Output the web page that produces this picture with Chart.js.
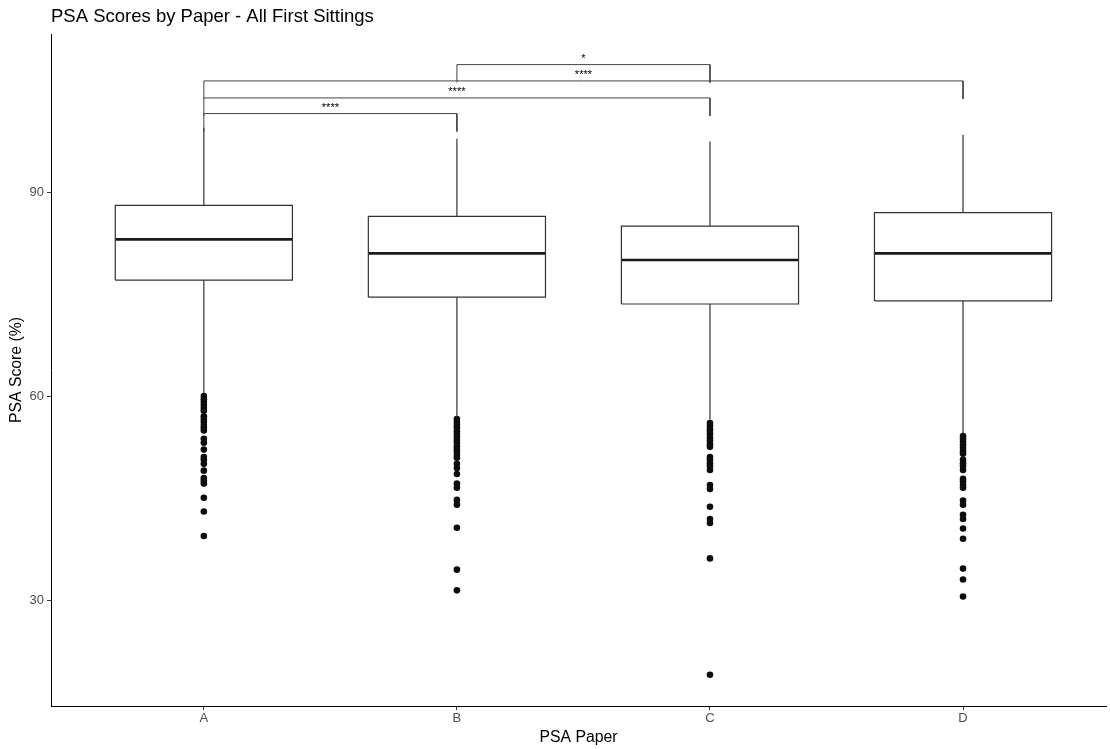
<!DOCTYPE html>
<html>
<head>
<meta charset="utf-8">
<title>PSA Scores by Paper</title>
<script src="https://cdn.jsdelivr.net/npm/chart.js@4.4.1/dist/chart.umd.min.js"></script>
<style>
  html, body { margin: 0; padding: 0; background: #fff; }
  #wrap { width: 1110px; height: 749px; position: relative; }
</style>
</head>
<body>
<div id="wrap"><canvas id="chart"></canvas></div>
<script>
// ---- data ----
const papers = ['A', 'B', 'C', 'D'];
const whiskerLow  = [60.5, 57.0, 56.6, 54.6];
const quartile1   = [77.1, 74.6, 73.6, 74.05];
const medians     = [83.1, 81.05, 80.07, 81.05];
const quartile3   = [88.1, 86.5, 85.05, 87.05];
const whiskerHigh = [99.5, 97.9, 97.5, 98.5];

const outliersA = [60.07, 59.6, 59.2, 58.75, 58.3, 57.9, 57.1, 56.7, 56.3, 55.8, 55.4, 55.0,
                   53.8, 53.2, 52.2, 51.1, 50.7, 50.1, 49.1, 48.0, 47.6, 47.2, 45.1, 43.1, 39.5];
const outliersB = [56.7, 56.26, 55.8, 55.4, 54.9, 54.5, 54.1, 53.6, 53.2, 52.7, 52.3, 51.9, 51.4, 51.0,
                   50.1, 49.5, 48.6, 47.2, 46.6, 44.8, 44.1, 40.7, 34.55, 31.5];
const outliersC = [56.1, 55.7, 55.2, 54.8, 54.4, 53.9, 53.5, 53.0, 52.6, 51.1, 50.7, 50.2, 49.8, 49.2,
                   47.0, 46.4, 43.8, 42.0, 41.4, 36.2, 19.1];
const outliersD = [54.2, 53.8, 53.3, 52.9, 52.45, 52.0, 51.6, 50.7, 50.2, 49.8, 49.2, 47.9, 47.5, 47.0,
                   46.6, 44.7, 44.1, 42.6, 42.0, 40.6, 39.1, 34.7, 33.1, 30.6];
const outlierSets = [outliersA, outliersB, outliersC, outliersD];

// pairwise comparisons (bracket level in score units, significance stars)
const compFrom   = ['A', 'A', 'A', 'B'];
const compTo     = ['B', 'C', 'D', 'C'];
const compLevel  = [101.6, 103.9, 106.4, 108.8];
const compLabels = ['****', '****', '****', '*'];

const yTickValues = [30, 60, 90];

// ---- style constants ----
const FONT = '"Liberation Sans", Arial, Helvetica, sans-serif';
const BOX_HALF = 0.35;     // half box width in category units
const TIP = 2.64;          // bracket tip length in score units
const LINE = '#333333';

const pos = p => papers.indexOf(p) + 1;

const datasets = [];

papers.forEach((p, i) => {
  const x = i + 1;
  // box outline
  datasets.push({
    data: [
      {x: x - BOX_HALF, y: quartile1[i]}, {x: x + BOX_HALF, y: quartile1[i]},
      {x: x + BOX_HALF, y: quartile3[i]}, {x: x - BOX_HALF, y: quartile3[i]},
      {x: x - BOX_HALF, y: quartile1[i]}
    ],
    showLine: true, borderColor: LINE, borderWidth: 1.2, pointRadius: 0, fill: false
  });
  // median
  datasets.push({
    data: [{x: x - BOX_HALF, y: medians[i]}, {x: x + BOX_HALF, y: medians[i]}],
    showLine: true, borderColor: '#1a1a1a', borderWidth: 2.6, pointRadius: 0
  });
  // whiskers
  datasets.push({
    data: [{x: x, y: quartile3[i]}, {x: x, y: whiskerHigh[i]}, {x: x, y: null},
           {x: x, y: quartile1[i]}, {x: x, y: whiskerLow[i]}],
    showLine: true, spanGaps: false, borderColor: LINE, borderWidth: 1.2, pointRadius: 0
  });
  // outliers
  datasets.push({
    data: outlierSets[i].map(v => ({x: x, y: v})),
    showLine: false, pointRadius: 3.3, pointBackgroundColor: '#0d0d0d', pointBorderWidth: 0,
    pointBorderColor: '#0d0d0d'
  });
});

// significance brackets
compFrom.forEach((f, k) => {
  const x1 = pos(f), x2 = pos(compTo[k]), lv = compLevel[k];
  datasets.push({
    data: [{x: x1, y: lv - TIP}, {x: x1, y: lv}, {x: x2, y: lv}, {x: x2, y: lv - TIP}],
    showLine: true, borderColor: '#444', borderWidth: 1, pointRadius: 0
  });
});

const textPlugin = {
  id: 'chartText',
  afterDatasetsDraw(chart) {
    const {ctx, chartArea, scales: {x, y}} = chart;
    ctx.save();
    // significance stars above each bracket
    ctx.font = '11px ' + FONT;
    ctx.fillStyle = '#000';
    ctx.textAlign = 'center';
    ctx.textBaseline = 'alphabetic';
    compFrom.forEach((f, k) => {
      const mid = (x.getPixelForValue(pos(f)) + x.getPixelForValue(pos(compTo[k]))) / 2;
      ctx.fillText(compLabels[k], mid, y.getPixelForValue(compLevel[k]) - 2.5);
    });
    // chart title, aligned with the panel
    ctx.font = '18.5px ' + FONT;
    ctx.textAlign = 'left';
    ctx.textBaseline = 'middle';
    ctx.fillText('PSA Scores by Paper - All First Sittings', chartArea.left, 17);
    ctx.restore();
  }
};

new Chart(document.getElementById('chart'), {
  type: 'scatter',
  data: {datasets},
  options: {
    responsive: true,
    maintainAspectRatio: false,
    animation: false,
    layout: {padding: {top: 34, left: 0, right: 0, bottom: 0}},
    plugins: {legend: {display: false}, tooltip: {enabled: false}},
    scales: {
      x: {
        type: 'linear',
        min: 0.396,
        max: 4.565,
        afterFit: s => { s.height = 43; },
        afterBuildTicks: s => { s.ticks = papers.map((p, i) => ({value: i + 1})); },
        ticks: {
          callback: v => papers[v - 1],
          autoSkip: false, maxRotation: 0, padding: 1,
          color: '#4d4d4d', font: {family: FONT, size: 13}
        },
        grid: {display: true, drawOnChartArea: false, drawTicks: true, tickLength: 4, color: '#333'},
        border: {display: true, color: '#000', width: 1},
        title: {display: true, text: 'PSA Paper', color: '#000',
                font: {family: FONT, size: 15.8}, padding: {top: 0, bottom: 1.5}}
      },
      y: {
        type: 'linear',
        min: 14.5,
        max: 113.3,
        afterFit: s => { s.width = 51; },
        afterBuildTicks: s => { s.ticks = yTickValues.map(v => ({value: v})); },
        ticks: {padding: 3, color: '#4d4d4d', font: {family: FONT, size: 13}},
        grid: {display: true, drawOnChartArea: false, drawTicks: true, tickLength: 4, color: '#333'},
        border: {display: true, color: '#000', width: 1},
        title: {display: true, text: 'PSA Score (%)', color: '#000',
                font: {family: FONT, size: 15.8}, padding: {top: 7, bottom: 0}}
      }
    }
  },
  plugins: [textPlugin]
});
</script>
</body>
</html>
